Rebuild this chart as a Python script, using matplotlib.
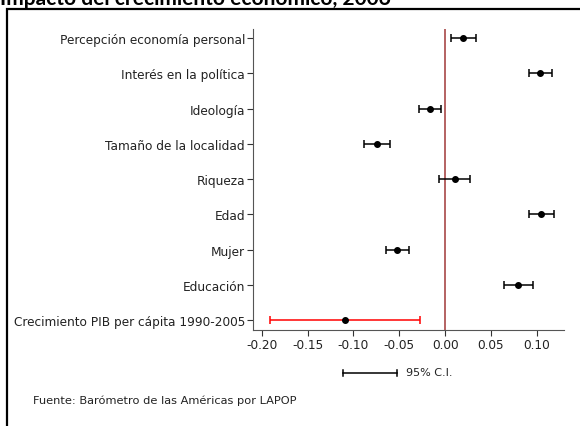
import matplotlib
matplotlib.use("Agg")
import matplotlib.pyplot as plt
from matplotlib.patches import Rectangle

# Datos del gráfico (coeficientes e intervalos de confianza 95%)
variables = [
    "Percepción economía personal",
    "Interés en la política",
    "Ideología",
    "Tamaño de la localidad",
    "Riqueza",
    "Edad",
    "Mujer",
    "Educación",
    "Crecimiento PIB per cápita 1990-2005",
]
coef = [0.0196, 0.1038, -0.0167, -0.0740, 0.0105, 0.1049, -0.0520, 0.0795, -0.1090]
ci_low = [0.0065, 0.0910, -0.0287, -0.0882, -0.0062, 0.0910, -0.0643, 0.0638, -0.1910]
ci_high = [0.0334, 0.1165, -0.0040, -0.0600, 0.0276, 0.1190, -0.0397, 0.0954, -0.0269]
colores = ["black"] * 8 + ["red"]
xticks = [-0.20, -0.15, -0.10, -0.05, 0.00, 0.05, 0.10]

fig = plt.figure(figsize=(5.8, 4.27), dpi=100)
plt.rcParams["font.family"] = "DejaVu Sans"

# titulo (cortado arriba, como en la imagen original)
fig.text(0.0, 1 - 5 / 427, "Impacto del crecimiento económico, 2006",
         fontsize=15, fontweight="bold", family="Lato", va="baseline", ha="left")

# marco negro
marco = Rectangle((7 / 580, -0.05), 1.0, 1 - 10 / 427 + 0.05, transform=fig.transFigure,
                  fill=False, edgecolor="black", linewidth=1.6)
fig.patches.append(marco)

ax = fig.add_axes([253.3 / 580, (427 - 330.7) / 427, (564 - 253.3) / 580, (330.7 - 30) / 427])

ypos = list(range(len(variables)))
for i in ypos:
    ax.errorbar(coef[i], i, xerr=[[coef[i] - ci_low[i]], [ci_high[i] - coef[i]]],
                fmt="o", color="black", ecolor=colores[i], elinewidth=1.1,
                capsize=3, capthick=1.1, markersize=4)

ax.axvline(0, color="#a84848", linewidth=1.2, zorder=0)

ax.set_yticks(ypos)
ax.set_yticklabels(variables, fontsize=8.7, color="#222222")
ax.set_ylim(len(variables) - 1 + 0.27, -0.26)
ax.set_xlim(-0.2092, 0.1297)
ax.set_xticks(xticks)
ax.set_xticklabels([f"{t:.2f}" for t in xticks], fontsize=8.7, color="#222222")

for s in ["top", "right"]:
    ax.spines[s].set_visible(False)
for s in ["left", "bottom"]:
    ax.spines[s].set_color("#555555")
ax.tick_params(axis="both", direction="out", length=4, color="#333333", pad=2)

# leyenda del intervalo de confianza
fig.add_artist(plt.Line2D([343 / 580, 397 / 580], [1 - 373.5 / 427] * 2,
                          color="black", linewidth=1.1))
for xx in [343, 397]:
    fig.add_artist(plt.Line2D([xx / 580] * 2, [1 - 370.5 / 427, 1 - 376.5 / 427],
                              color="black", linewidth=1.1))
fig.text(406 / 580, 1 - 373.5 / 427, "95% C.I.", fontsize=8, va="center", ha="left",
         color="#222222")

fig.text(33 / 580, 1 - 401 / 427, "Fuente: Barómetro de las Américas por LAPOP",
         fontsize=8.2, va="center", ha="left", color="#222222")

fig.savefig("out.png", dpi=100)
